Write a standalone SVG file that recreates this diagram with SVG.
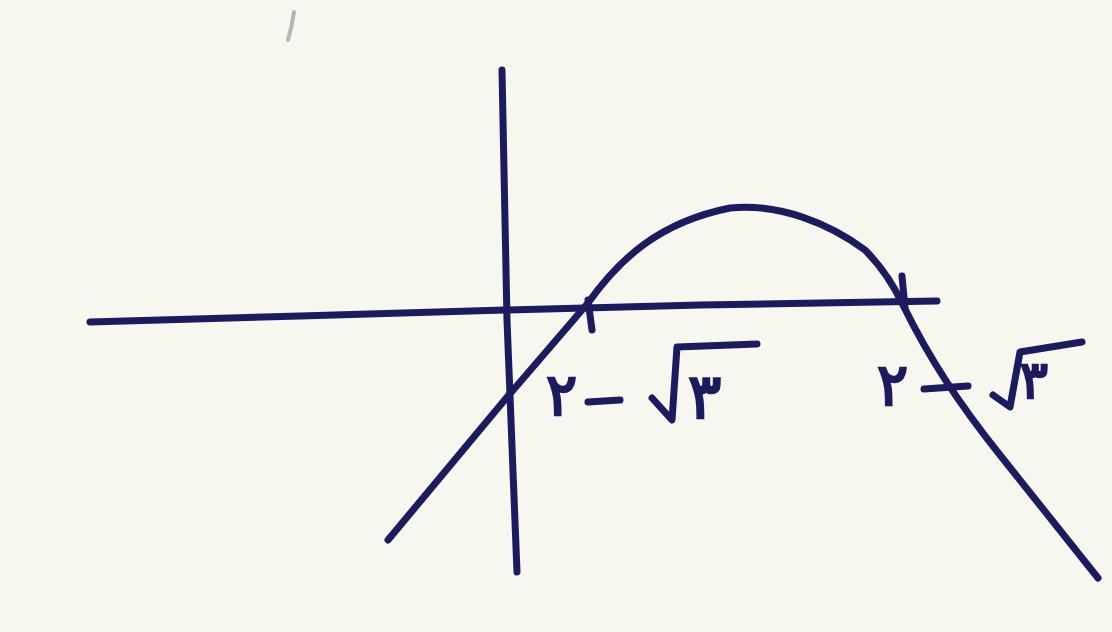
<svg xmlns="http://www.w3.org/2000/svg" width="1112" height="632" viewBox="0 0 1112 632">
<style>
.ink{fill:none;stroke:#1c1b5e;stroke-width:7;stroke-linecap:round;stroke-linejoin:round}
.lbl{font-family:"DejaVu Sans",sans-serif;fill:#1c1b5e;stroke:#1c1b5e;stroke-width:2.5}
</style>
<rect width="1112" height="632" fill="#f7f7f0"/>
<path d="M294,12 Q292,26 288,40" stroke="#9a9a9a" stroke-width="4" fill="none" stroke-linecap="round" opacity="0.7"/>
<g id="axes">
<path class="ink" d="M90,322 L300,316 L505,310 L700,305 L937,301"/>
<path class="ink" d="M502,70 Q505,200 507,320 Q512,460 517,572"/>
</g>
<g id="curve">
<path class="ink" d="M388,540 L508,396 L588,303 C620,258 660,222 730,208 C780,203 830,224 865,250 C885,270 895,288 903,305 C930,360 960,405 1000,455 L1098,578"/>
<path class="ink" d="M588,300 L592,330"/>
<path class="ink" d="M902,276 L905,308"/>
</g>
<g id="label-left">
<text class="lbl" x="546" y="415" font-size="58">۲</text>
<path class="ink" d="M588,402 L620,400"/>
<path class="ink" d="M652,398 L672,420 L677,347 L757,344"/>
<text class="lbl" x="688" y="418" font-size="62">۳</text>
</g>
<g id="label-right">
<text class="lbl" x="877" y="405" font-size="58">۲</text>
<path class="ink" d="M924,389 L968,386"/>
<path class="ink" d="M993,395 L1010,407 L1020,352 L1082,342"/>
<text class="lbl" x="1020" y="398" font-size="52">۳</text>
</g>
</svg>
